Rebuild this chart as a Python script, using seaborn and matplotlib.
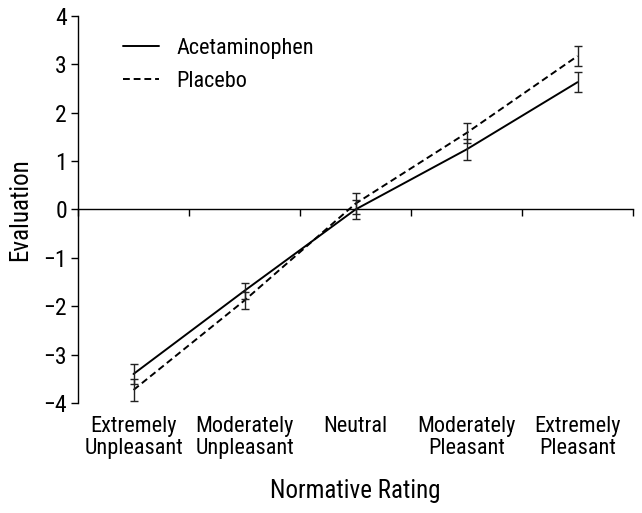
import matplotlib
matplotlib.use('Agg')
import matplotlib.pyplot as plt
import seaborn as sns
import pandas as pd
import numpy as np

categories = ['Extremely\nUnpleasant', 'Moderately\nUnpleasant', 'Neutral',
              'Moderately\nPleasant', 'Extremely\nPleasant']
acet_mean = [-3.40, -1.68, 0.00, 1.24, 2.63]
acet_err = [0.21, 0.17, 0.20, 0.21, 0.21]
plac_mean = [-3.73, -1.88, 0.12, 1.58, 3.17]
plac_err = [0.22, 0.17, 0.22, 0.20, 0.21]
y_ticks = [-4, -3, -2, -1, 0, 1, 2, 3, 4]

sns.set_theme(style='white')
plt.rcParams['font.family'] = ['Roboto Condensed', 'Roboto', 'DejaVu Sans']
plt.rcParams['axes.unicode_minus'] = True
plt.rcParams['text.color'] = 'black'
plt.rcParams['xtick.color'] = 'black'
plt.rcParams['ytick.color'] = 'black'
plt.rcParams['axes.labelcolor'] = 'black'

x = np.arange(len(categories))
df = pd.DataFrame({
    'pos': np.concatenate([x, x]),
    'Evaluation': acet_mean + plac_mean,
    'err': acet_err + plac_err,
    'Condition': ['Acetaminophen'] * len(x) + ['Placebo'] * len(x),
})

fig = plt.figure(figsize=(6.42, 5.13), dpi=100)
ax = fig.add_axes([0.1215, 0.2144, 0.8645, 0.7546])

sns.lineplot(data=df, x='pos', y='Evaluation', style='Condition',
             dashes={'Acetaminophen': '', 'Placebo': (3.5, 2)},
             color='black', linewidth=1.4, ax=ax)
for cond, g in df.groupby('Condition'):
    ax.errorbar(g['pos'], g['Evaluation'], yerr=g['err'], fmt='none',
                ecolor='#222222', elinewidth=1.0, capsize=3, capthick=1.0)

ax.set_xlim(-0.5, len(categories) - 0.5)
ax.set_ylim(-4, 4)
ax.set_yticks(y_ticks)
ax.set_xticks(x)
ax.set_xticklabels(categories, fontsize=16, linespacing=1.1)
ax.tick_params(axis='x', length=0, pad=9)
ax.tick_params(axis='y', direction='out', length=5, width=1, color='black',
               labelsize=17, left=True, pad=3)

for s in ['top', 'right', 'bottom']:
    ax.spines[s].set_visible(False)
ax.spines['left'].set_color('black')
ax.spines['left'].set_linewidth(1.0)

# axis line at zero with ticks between categories
zx = ax.secondary_xaxis(0, transform=ax.transData)
zx.set_xticks(np.arange(len(categories) + 1) - 0.5)
zx.set_xticklabels([])
zx.tick_params(direction='out', length=5, width=1, color='black')
zx.spines['bottom'].set_color('black')
zx.spines['bottom'].set_linewidth(1.0)

ax.set_xlabel('Normative Rating', fontsize=18, labelpad=14)
ax.set_ylabel('Evaluation', fontsize=18, labelpad=8)

leg = ax.legend(loc='upper left', bbox_to_anchor=(0.045, 0.995), frameon=False,
                fontsize=16, handlelength=1.6, handletextpad=0.8,
                labelspacing=0.55)
for line in leg.get_lines():
    line.set_linewidth(1.4)

plt.savefig('out.png', dpi=100)
plt.close()
